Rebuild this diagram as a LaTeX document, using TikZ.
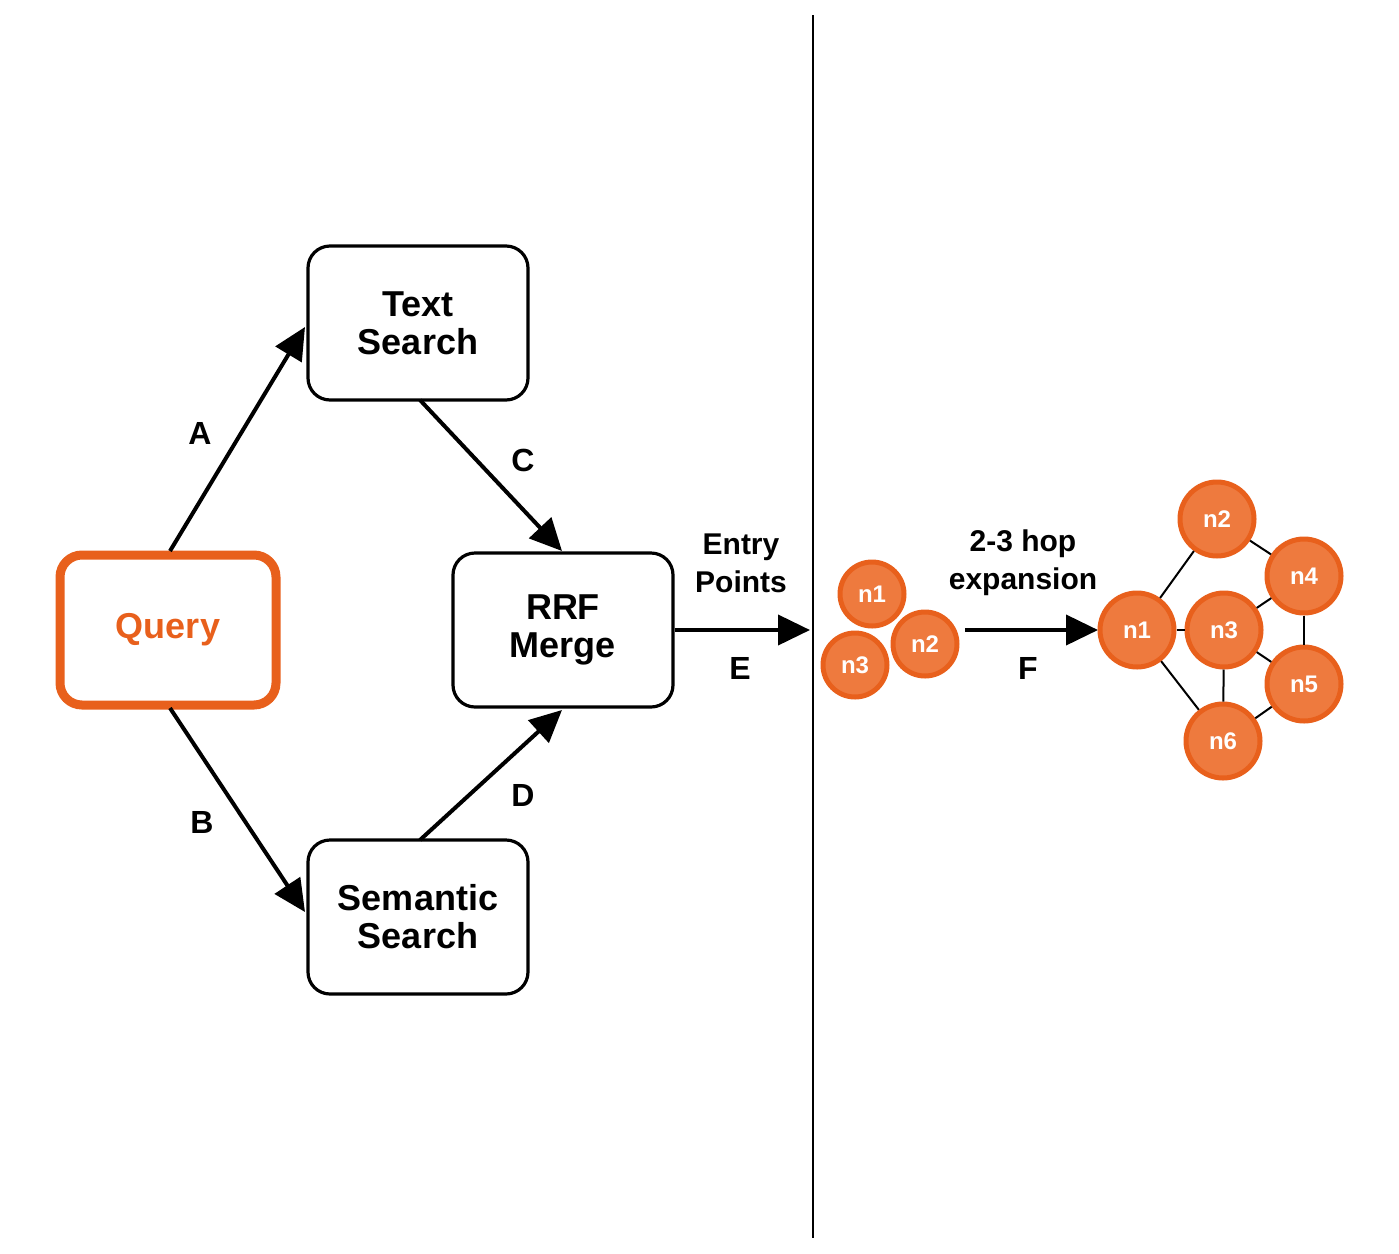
\documentclass[tikz,border=0pt]{standalone}
\usepackage{fontspec}
\setmainfont{Liberation Sans}
\usetikzlibrary{arrows.meta}
\definecolor{qorange}{HTML}{E8601C}
\definecolor{nfill}{HTML}{EE7A3E}
\tikzset{
  box/.style={draw, line width=1.6pt, rounded corners=11pt, minimum width=110pt, minimum height=77pt, align=center, font=\bfseries\fontsize{18}{22}\selectfont},
  arr/.style={line width=2pt, -{Triangle[length=16pt,width=15pt]}},
  lab/.style={font=\bfseries\fontsize{16}{18}\selectfont},
  gn/.style={circle, fill=nfill, draw=qorange, line width=2.5pt, text=white, font=\bfseries\fontsize{12}{14}\selectfont, inner sep=0pt},
  sn/.style={gn, minimum size=32pt},
  bn/.style={gn, minimum size=37pt},
  edge/.style={line width=1pt}
}
\begin{document}
\begin{tikzpicture}[x=0.5pt,y=-0.5pt]
\useasboundingbox (0,0) rectangle (1399,1254);
\node[box, draw=qorange, line width=4.5pt, minimum width=108pt, minimum height=75pt, text=qorange] (q) at (168,630) {Query};
\node[box] (ts) at (418,323) {Text\\[-3pt]Search};
\node[box] (ss) at (418,917) {Semantic\\[-3pt]Search};
\node[box] (rrf) at (563,630) {RRF\\[-3pt]Merge};
\coordinate (qa) at (170,551);
\coordinate (qb) at (170,708);
\coordinate (ta) at (305,327);
\coordinate (sb) at (305,912);
\coordinate (tc) at (420,400);
\coordinate (rc) at (562,551);
\coordinate (sd) at (420,840);
\coordinate (rd) at (562,710);
\coordinate (eend) at (810,630);
\draw[arr] (qa) -- (ta);
\draw[arr] (qb) -- (sb);
\draw[arr] (tc) -- (rc);
\draw[arr] (sd) -- (rd);
\draw[arr] (rrf.east) -- (eend);
\node[lab] (la) at (200,433) {A};
\node[lab] (lb) at (202,822) {B};
\node[lab] (lc) at (523,460) {C};
\node[lab] (ld) at (523,795) {D};
\node[lab] (le) at (740,668) {E};
\node[lab, align=center, font=\bfseries\fontsize{15}{19}\selectfont] (ep) at (741,563) {Entry\\Points};
\coordinate (vt) at (813,15);
\coordinate (vb) at (813,1238);
\draw[line width=1.2pt] (vt) -- (vb);
\node[sn] (a1) at (872,594) {n1};
\node[sn] (a2) at (925,644) {n2};
\node[sn] (a3) at (855,665) {n3};
\coordinate (fs) at (965,630);
\coordinate (fe) at (1098,630);
\draw[arr] (fs) -- (fe);
\node[lab] (lf) at (1028,668) {F};
\node[lab, align=center, font=\bfseries\fontsize{15}{19}\selectfont] (hop) at (1023,563) {2-3 hop\\expansion};
\node[bn] (b1) at (1137,630) {n1};
\node[bn] (b2) at (1217,519) {n2};
\node[bn] (b4) at (1304,576) {n4};
\node[bn] (b3) at (1224,630) {n3};
\node[bn] (b5) at (1304,684) {n5};
\node[bn] (b6) at (1223,741) {n6};
\draw[edge] (b1) -- (b2);
\draw[edge] (b1) -- (b3);
\draw[edge] (b1) -- (b6);
\draw[edge] (b2) -- (b4);
\draw[edge] (b3) -- (b4);
\draw[edge] (b3) -- (b5);
\draw[edge] (b3) -- (b6);
\draw[edge] (b4) -- (b5);
\draw[edge] (b5) -- (b6);
\end{tikzpicture}
\end{document}
